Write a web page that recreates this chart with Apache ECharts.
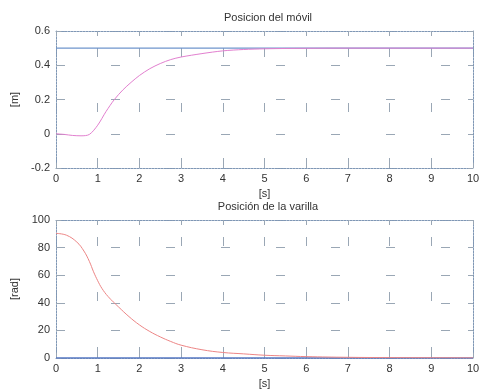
<!DOCTYPE html>
<html>
<head>
<meta charset="utf-8">
<script src="https://cdn.jsdelivr.net/npm/echarts@6/dist/echarts.min.js"></script>
<style>
html, body { margin: 0; padding: 0; background: #fff; }
#chart { width: 484px; height: 392px; }
</style>
</head>
<body>
<div id="chart"></div>
<script>
// tiempo y posicion del movil [m]
const posT = [0, 0.2, 0.4, 0.6, 0.8, 1.0, 1.2, 1.4, 1.6, 1.8, 2.0, 2.25, 2.5, 2.75, 3.0, 3.5, 4.0, 4.5, 5.0, 5.5, 6, 7, 8, 9, 10]
const posY = [0, -0.004, -0.01, -0.012, -0.004, 0.05, 0.13, 0.2, 0.255, 0.3, 0.34, 0.38, 0.41, 0.433, 0.448, 0.468, 0.484, 0.492, 0.496, 0.498, 0.499, 0.5, 0.5, 0.5, 0.5]
const posRef = [[0, 0.5], [10, 0.5]]

// tiempo y posicion de la varilla [rad]
const angT = [0, 0.25, 0.5, 0.67, 0.8, 0.9, 1.0, 1.1, 1.25, 1.5, 1.75, 2.0, 2.25, 2.5, 2.75, 3.0, 3.5, 4.0, 4.5, 5.0, 5.5, 6.0, 7, 8, 9, 10]
const angY = [90.3, 89, 84, 77.5, 70, 62.5, 56, 50.5, 44.5, 37, 30, 24, 19.2, 15.3, 12, 9.3, 6, 4, 3, 2, 1.5, 1, 0.5, 0.3, 0.2, 0.1]
const angRef = [[0, 0], [10, 0]]

const titles = ['Posicion del móvil', 'Posición de la varilla']
const yNames = ['[m]', '[rad]']

const boxColor = '#7f97b5'
const gridColor = '#9aa7b5'
const font = 'Liberation Sans, Arial, sans-serif'

function xAxes(gi) {
    const base = {
        gridIndex: gi, type: 'value', min: 0, max: 10, interval: 1,
        axisLine: { show: true, onZero: false, lineStyle: { color: boxColor, type: [2, 1], width: 1 } },
        axisTick: { show: true, inside: true, length: 5, lineStyle: { color: gridColor } }
    }
    return [
        Object.assign({}, base, {
            position: 'bottom',
            name: '[s]', nameLocation: 'middle', nameGap: 20,
            nameTextStyle: { color: '#333', fontSize: 11, fontFamily: font },
            axisLabel: { color: '#333', fontSize: 11, fontFamily: font, margin: 5 },
            splitLine: { show: true, lineStyle: { color: gridColor, type: [9, 46], dashOffset: 38, width: 1 } }
        }),
        Object.assign({}, base, {
            position: 'top', axisLabel: { show: false }, splitLine: { show: false }
        })
    ]
}

function yAxes(gi, min, max, interval, fmt) {
    const base = {
        gridIndex: gi, type: 'value', min: min, max: max, interval: interval,
        axisLine: { show: true, onZero: false, lineStyle: { color: boxColor, type: [2, 1], width: 1 } },
        axisTick: { show: true, inside: true, length: 5, lineStyle: { color: gridColor } }
    }
    return [
        Object.assign({}, base, {
            position: 'left',
            name: yNames[gi], nameLocation: 'middle', nameGap: 36, nameRotate: 90,
            nameTextStyle: { color: '#333', fontSize: 11, fontFamily: font },
            axisLabel: { color: '#333', fontSize: 11, fontFamily: font, margin: 6, formatter: fmt },
            splitLine: { show: true, lineStyle: { color: gridColor, type: [9, 46], dashOffset: 0, width: 1 } }
        }),
        Object.assign({}, base, {
            position: 'right', axisLabel: { show: false }, splitLine: { show: false }
        })
    ]
}

const chart = echarts.init(document.getElementById('chart'))
chart.setOption({
    backgroundColor: '#fff',
    animation: false,
    title: [
        { text: titles[0], left: 263, top: 7, textAlign: 'center',
          textStyle: { fontSize: 11, fontWeight: 'normal', color: '#333', fontFamily: font } },
        { text: titles[1], left: 263, top: 196, textAlign: 'center',
          textStyle: { fontSize: 11, fontWeight: 'normal', color: '#333', fontFamily: font } }
    ],
    grid: [
        { left: 56, right: 11, top: 31, height: 137 },
        { left: 56, right: 11, top: 220, height: 138 }
    ],
    xAxis: [].concat(xAxes(0), xAxes(1)),
    yAxis: [].concat(
        yAxes(0, -0.2, 0.6, 0.2, v => (Math.abs(v) < 1e-9 ? '0' : v.toFixed(1))),
        yAxes(1, 0, 100, 20, v => String(v))
    ),
    series: [
        { type: 'line', xAxisIndex: 0, yAxisIndex: 0, data: posRef, showSymbol: false,
          lineStyle: { color: '#6f95cc', width: 1.2 }, z: 2 },
        { type: 'line', xAxisIndex: 0, yAxisIndex: 0, data: posT.map((t, i) => [t, posY[i]]),
          showSymbol: false, smooth: 0.3, lineStyle: { color: '#e27fcf', width: 1 }, z: 3 },
        { type: 'line', xAxisIndex: 2, yAxisIndex: 2, data: angT.map((t, i) => [t, angY[i]]),
          showSymbol: false, smooth: 0.4, lineStyle: { color: '#ec8585', width: 1 }, z: 3 },
        { type: 'line', xAxisIndex: 2, yAxisIndex: 2, data: angRef, showSymbol: false,
          lineStyle: { color: '#5577c4', width: 1.5 }, z: 2 }
    ]
})
</script>
</body>
</html>
